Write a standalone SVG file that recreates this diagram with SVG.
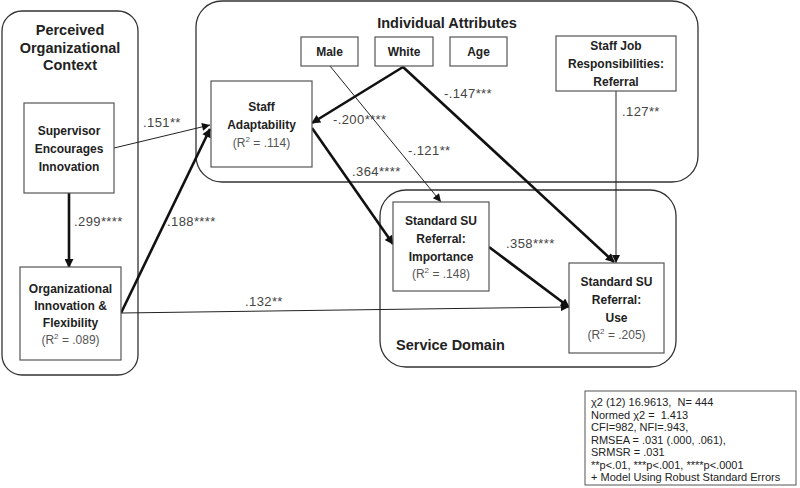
<svg xmlns="http://www.w3.org/2000/svg" width="800" height="488" viewBox="0 0 800 488">
<style>
.cont{fill:none;stroke:#333;stroke-width:1.3}
.box{fill:#fff;stroke:#555;stroke-width:1.2}
.t{font-family:"Liberation Sans",Arial,sans-serif;font-size:12px;font-weight:bold;fill:#222;text-anchor:middle}
.h{font-family:"Liberation Sans",Arial,sans-serif;font-size:14.5px;font-weight:bold;fill:#222;text-anchor:middle}
.r{font-family:"Liberation Sans",Arial,sans-serif;font-size:12px;fill:#555;text-anchor:middle}
.lab{font-family:"Liberation Sans",Arial,sans-serif;font-size:13px;fill:#444;letter-spacing:0.4px}
.st{font-family:"Liberation Sans",Arial,sans-serif;font-size:11px;fill:#222;white-space:pre}
.thin{fill:none;stroke:#222;stroke-width:1}
.thick{fill:none;stroke:#111;stroke-width:2.6}
</style>
<defs>
<marker id="a" viewBox="0 0 10 10" refX="10" refY="5" markerWidth="10" markerHeight="8" markerUnits="userSpaceOnUse" orient="auto"><path d="M0,0 L10,5 L0,10 z" fill="#111"/></marker>
<marker id="ab" viewBox="0 0 10 10" refX="9" refY="5" markerWidth="11" markerHeight="9" markerUnits="userSpaceOnUse" orient="auto"><path d="M0,0 L10,5 L0,10 z" fill="#111"/></marker>
</defs>
<rect width="800" height="488" fill="#fff"/>

<g id="containers">
<g id="perceived-context">
<rect class="cont" x="2" y="11" width="136" height="364" rx="20"/>
<text class="h" x="70" y="35">Perceived</text>
<text class="h" x="70" y="53">Organizational</text>
<text class="h" x="70" y="70">Context</text>
</g>
<g id="individual-attributes">
<rect class="cont" x="196" y="1" width="502" height="181" rx="26"/>
<text class="h" x="447" y="28">Individual Attributes</text>
</g>
<g id="service-domain">
<rect class="cont" x="380" y="190" width="296" height="177" rx="26"/>
<text class="h" x="396" y="350" style="text-anchor:start">Service Domain</text>
</g>
</g>

<g id="connectors">
<line class="thin" x1="114" y1="148" x2="210" y2="125" marker-end="url(#a)"/>
<line class="thick" x1="69" y1="193" x2="69" y2="267" marker-end="url(#ab)"/>
<line class="thick" x1="121" y1="313" x2="210" y2="129" marker-end="url(#ab)"/>
<line class="thin" x1="121" y1="313" x2="569" y2="307" marker-end="url(#a)"/>
<line class="thick" x1="403" y1="67" x2="312" y2="123" marker-end="url(#ab)"/>
<line class="thick" x1="403" y1="67" x2="614" y2="262" marker-end="url(#ab)"/>
<line class="thin" x1="330" y1="66" x2="441" y2="202" marker-end="url(#a)"/>
<line class="thick" x1="312" y1="128" x2="393" y2="244" marker-end="url(#ab)"/>
<line class="thin" x1="616" y1="91" x2="616" y2="263" marker-end="url(#a)"/>
<line class="thick" x1="489" y1="247" x2="569" y2="307" marker-end="url(#ab)"/>
<text class="lab" x="143" y="127">.151**</text>
<text class="lab" x="74" y="226">.299****</text>
<text class="lab" x="167" y="226">.188****</text>
<text class="lab" x="245" y="306">.132**</text>
<text class="lab" x="333" y="124">-.200****</text>
<text class="lab" x="444" y="98">-.147***</text>
<text class="lab" x="408" y="155">-.121**</text>
<text class="lab" x="352" y="176">.364****</text>
<text class="lab" x="622" y="116">.127**</text>
<text class="lab" x="506" y="248">.358****</text>
</g>

<g id="male">
<rect class="box" x="301" y="37" width="57" height="29"/>
<text class="t" x="329.5" y="56">Male</text>
</g>
<g id="white">
<rect class="box" x="375" y="37" width="58" height="29"/>
<text class="t" x="404" y="56">White</text>
</g>
<g id="age">
<rect class="box" x="450" y="37" width="57" height="29"/>
<text class="t" x="478.5" y="56">Age</text>
</g>
<g id="staff-job">
<rect class="box" x="556" y="36" width="120" height="55"/>
<text class="t" x="616" y="50">Staff Job</text>
<text class="t" x="616" y="68">Responsibilities:</text>
<text class="t" x="616" y="86">Referral</text>
</g>
<g id="staff-adaptability">
<rect class="box" x="211" y="81" width="101" height="86"/>
<text class="t" x="261.5" y="111">Staff</text>
<text class="t" x="261.5" y="129">Adaptability</text>
<text class="r" x="261.5" y="147">(R<tspan dy="-5" font-size="8">2</tspan><tspan dy="5"> = .114)</tspan></text>
</g>
<g id="supervisor">
<rect class="box" x="24" y="103" width="90" height="90"/>
<text class="t" x="69" y="135">Supervisor</text>
<text class="t" x="69" y="153">Encourages</text>
<text class="t" x="69" y="171">Innovation</text>
</g>
<g id="org-innovation">
<rect class="box" x="20" y="267" width="101" height="93"/>
<text class="t" x="70.5" y="293">Organizational</text>
<text class="t" x="70.5" y="310">Innovation &amp;</text>
<text class="t" x="70.5" y="327">Flexibility</text>
<text class="r" x="70.5" y="344">(R<tspan dy="-5" font-size="8">2</tspan><tspan dy="5"> = .089)</tspan></text>
</g>
<g id="importance">
<rect class="box" x="393" y="202" width="96" height="89"/>
<text class="t" x="441" y="225">Standard SU</text>
<text class="t" x="441" y="243">Referral:</text>
<text class="t" x="441" y="261">Importance</text>
<text class="r" x="441" y="278">(R<tspan dy="-5" font-size="8">2</tspan><tspan dy="5"> = .148)</tspan></text>
</g>
<g id="use">
<rect class="box" x="569" y="263" width="95" height="90"/>
<text class="t" x="616.5" y="286">Standard SU</text>
<text class="t" x="616.5" y="304">Referral:</text>
<text class="t" x="616.5" y="322">Use</text>
<text class="r" x="616.5" y="339">(R<tspan dy="-5" font-size="8">2</tspan><tspan dy="5"> = .205)</tspan></text>
</g>

<g id="stats">
<rect x="585" y="391" width="211" height="94" fill="#fff" stroke="#555" stroke-width="1"/>
<text class="st" x="591" y="406">χ2 (12) 16.9613,  N= 444</text>
<text class="st" x="591" y="419">Normed χ2 =  1.413</text>
<text class="st" x="591" y="431">CFI=982, NFI=.943,</text>
<text class="st" x="591" y="444">RMSEA = .031 (.000, .061),</text>
<text class="st" x="591" y="456">SRMSR = .031</text>
<text class="st" x="591" y="469">**p&lt;.01, ***p&lt;.001, ****p&lt;.0001</text>
<text class="st" x="591" y="481">+ Model Using Robust Standard Errors</text>
</g>
</svg>
